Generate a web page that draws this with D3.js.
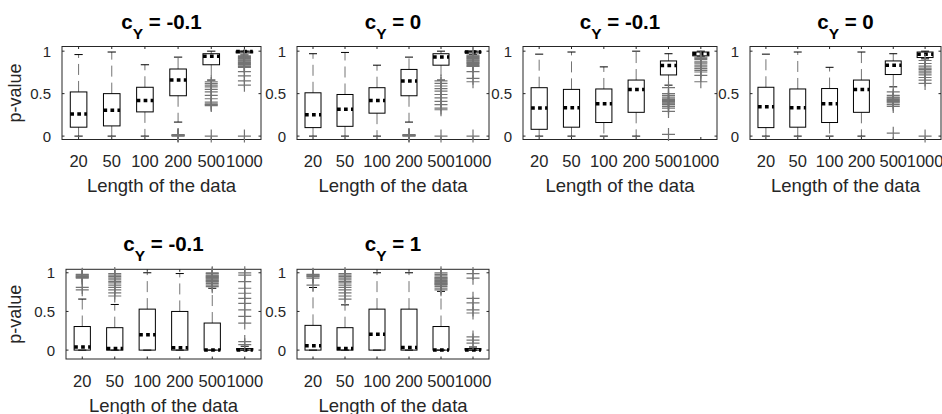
<!DOCTYPE html>
<html>
<head>
<meta charset="utf-8">
<script src="https://cdn.jsdelivr.net/npm/d3@7"></script>
<style>
  body { margin: 0; background: #fff; }
  svg { display: block; font-family: "Liberation Sans", Arial, sans-serif; }
</style>
</head>
<body>
<script>
// data length categories and the c_Y value of each panel
const lengths = ["20", "50", "100", "200", "500", "1000"]
const cY = ["-0.1", "0", "-0.1", "0", "-0.1", "1"]
const yTicks = [0, 0.5, 1]

// boxes per panel: [lower whisker, q1, median, q3, upper whisker]
const box1 = [[0, 0.105, 0.26, 0.52, 0.96], [0, 0.12, 0.305, 0.50, 0.99], [0, 0.285, 0.42, 0.575, 0.84],
              [0.165, 0.475, 0.66, 0.79, 0.93], [0.66, 0.84, 0.94, 0.97, 1.0], [0.955, 0.98, 0.995, 1.0, 1.0]]
const box2 = [[0, 0.10, 0.25, 0.51, 0.97], [0, 0.115, 0.315, 0.49, 0.985], [0, 0.27, 0.42, 0.57, 0.835],
              [0.165, 0.475, 0.65, 0.785, 0.93], [0.66, 0.835, 0.93, 0.97, 1.0], [0.96, 0.98, 0.99, 1.0, 1.0]]
const box3 = [[0, 0.08, 0.33, 0.57, 0.965], [0, 0.105, 0.335, 0.55, 0.99], [0, 0.16, 0.38, 0.555, 0.815],
              [0, 0.28, 0.55, 0.66, 1.0], [0.60, 0.72, 0.83, 0.885, 0.97], [0.935, 0.945, 0.97, 0.99, 1.0]]
const box4 = [[0, 0.10, 0.345, 0.575, 0.965], [0, 0.105, 0.335, 0.555, 0.99], [0, 0.16, 0.38, 0.56, 0.81],
              [0, 0.28, 0.55, 0.66, 0.99], [0.58, 0.725, 0.835, 0.885, 0.97], [0.91, 0.925, 0.965, 0.99, 1.0]]
const box5 = [[0, 0, 0.04, 0.305, 0.66], [0, 0, 0.02, 0.29, 0.59], [0, 0, 0.20, 0.53, 1.0],
              [0, 0, 0.03, 0.50, 0.99], [0, 0, 0, 0.35, 0.80], [0, 0, 0, 0.02, 0.05]]
const box6 = [[0, 0, 0.055, 0.32, 0.81], [0, 0, 0.02, 0.29, 0.585], [0, 0, 0.205, 0.53, 1.0],
              [0, 0, 0.035, 0.53, 1.0], [0, 0, 0, 0.305, 0.76], [0, 0, 0, 0.02, 0.04]]

// outliers per panel, one list per length
const out1 = [[], [], [], [0, 0.004, 0.008, 0.013, 0.018],
  [0.64, 0.62, 0.60, 0.58, 0.55, 0.52, 0.48, 0.44, 0.40, 0.38, 0.37, 0.36, 0],
  [0.945, 0.935, 0.925, 0.915, 0.905, 0.895, 0.885, 0.875, 0.865, 0.855, 0.845, 0.835, 0.82, 0.81, 0.76, 0.71, 0.65, 0.60, 0]]
const out2 = [[], [], [], [0, 0.004, 0.008, 0.013, 0.018],
  [0.65, 0.62, 0.59, 0.56, 0.53, 0.49, 0.45, 0.41, 0.37, 0.33, 0.31, 0],
  [0.955, 0.945, 0.935, 0.925, 0.915, 0.905, 0.895, 0.885, 0.875, 0.865, 0.855, 0.845, 0.83, 0.82, 0.76, 0.68, 0.64, 0]]
const out3 = [[], [], [], [],
  [0.57, 0.50, 0.48, 0.46, 0.44, 0.43, 0.42, 0.41, 0.40, 0.39, 0.38, 0.37, 0.35, 0.33, 0.29, 0.02],
  [0.93, 0.915, 0.90, 0.875, 0.86, 0.835, 0.815, 0.795, 0.775, 0.755, 0.715, 0.64]]
const out4 = [[], [], [], [],
  [0.52, 0.48, 0.46, 0.45, 0.44, 0.43, 0.42, 0.41, 0.40, 0.39, 0.37, 0.35, 0.035],
  [0.89, 0.855, 0.825, 0.80, 0.785, 0.765, 0.745, 0.72, 0.69, 0.66, 0.62, 0]]
const out5 = [[0.78, 0.81, 0.93, 0.94, 0.95, 0.96, 0.97, 0.98],
  [0.70, 0.74, 0.78, 0.81, 0.84, 0.87, 0.89, 0.91, 0.93, 0.95, 0.97, 0.99], [], [],
  [0.82, 0.84, 0.86, 0.88, 0.89, 0.90, 0.91, 0.92, 0.93, 0.94, 0.95, 0.96, 0.97, 0.99, 1.0],
  [0.07, 0.11, 0.35, 0.435, 0.52, 0.605, 0.67, 0.735, 0.80, 0.885, 0.97, 1.0]]
const out6 = [[0.84, 0.93, 0.95, 0.96, 0.97, 0.98],
  [0.66, 0.70, 0.74, 0.78, 0.81, 0.84, 0.87, 0.89, 0.91, 0.93, 0.95, 0.97, 0.99], [], [],
  [0.78, 0.80, 0.82, 0.84, 0.85, 0.86, 0.87, 0.88, 0.89, 0.90, 0.91, 0.92, 0.93, 0.94, 0.96, 0.98, 1.0],
  [0.09, 0.13, 0.17, 0.48, 0.52, 0.61, 0.67, 0.93, 0.99]]

const width = 942
const height = 414

const rows = [
  { top: 46.5, bottom: 139.5, domain: [-0.04, 1.055] },
  { top: 269.3, bottom: 359, domain: [-0.115, 1.045] }
]

const panels = [
  { box: box1, out: out1, left: 62, right: 261, row: 0, ylab: true },
  { box: box2, out: out2, left: 297, right: 489, row: 0 },
  { box: box3, out: out3, left: 523, right: 717, row: 0 },
  { box: box4, out: out4, left: 750, right: 941, row: 0 },
  { box: box5, out: out5, left: 66, right: 261, row: 1, ylab: true },
  { box: box6, out: out6, left: 297, right: 489, row: 1 }
]

const svg = d3.select('body').append('svg')
    .attr('width', width)
    .attr('height', height)

const axisColor = '#262626'
const grey = '#747474'

panels.forEach((p, pi) => {
    const r = rows[p.row]
    const x = d3.scaleLinear().domain([0.5, lengths.length + 0.5]).range([p.left, p.right])
    const y = d3.scaleLinear().domain(r.domain).range([r.bottom, r.top])
    const g = svg.append('g')
    const cx = (p.left + p.right) / 2

    // frame and inward ticks
    g.append('rect')
        .attr('x', p.left).attr('y', r.top)
        .attr('width', p.right - p.left).attr('height', r.bottom - r.top)
        .attr('fill', 'none').attr('stroke', axisColor).attr('stroke-width', 1)
    lengths.forEach((l, i) => {
        const xi = x(i + 1)
        g.append('line').attr('x1', xi).attr('x2', xi).attr('y1', r.bottom).attr('y2', r.bottom - 2.5)
            .attr('stroke', axisColor)
        g.append('line').attr('x1', xi).attr('x2', xi).attr('y1', r.top).attr('y2', r.top + 2.5)
            .attr('stroke', axisColor)
        g.append('text')
            .attr('x', xi).attr('y', r.bottom + 27.5)
            .attr('text-anchor', 'middle')
            .attr('font-size', 16.5).attr('fill', axisColor)
            .text(l)
    })
    yTicks.forEach(t => {
        const yt = y(t)
        g.append('line').attr('x1', p.left).attr('x2', p.left + 2.5).attr('y1', yt).attr('y2', yt)
            .attr('stroke', axisColor)
        g.append('line').attr('x1', p.right).attr('x2', p.right - 2.5).attr('y1', yt).attr('y2', yt)
            .attr('stroke', axisColor)
        g.append('text')
            .attr('x', p.left - 11).attr('y', yt + 5.5)
            .attr('text-anchor', 'end')
            .attr('font-size', 15).attr('fill', axisColor)
            .text(t)
    })

    // boxes
    p.box.forEach((b, i) => {
        const [lo, q1, med, q3, hi] = b
        const xc = x(i + 1)
        const hw = x(1.25) - x(1)
        const cw = x(1.125) - x(1)
        const whisk = [[q3, hi], [q1, lo]]
        whisk.forEach(([from, to]) => {
            if (from !== to) {
                g.append('line')
                    .attr('x1', xc).attr('x2', xc).attr('y1', y(from)).attr('y2', y(to))
                    .attr('stroke', grey).attr('stroke-width', 1)
                    .attr('stroke-dasharray', '11,6')
            }
            g.append('line')
                .attr('x1', xc - cw).attr('x2', xc + cw).attr('y1', y(to)).attr('y2', y(to))
                .attr('stroke', '#000').attr('stroke-width', 1)
        })
        g.append('rect')
            .attr('x', xc - hw).attr('width', 2 * hw)
            .attr('y', y(q3)).attr('height', Math.max(0, y(q1) - y(q3)))
            .attr('fill', 'none').attr('stroke', '#000').attr('stroke-width', 1)
        g.append('line')
            .attr('x1', xc - hw).attr('x2', xc + hw).attr('y1', y(med)).attr('y2', y(med))
            .attr('stroke', '#000').attr('stroke-width', 3.5)
            .attr('stroke-dasharray', '3.7,3.3')

        // outliers as +
        p.out[i].forEach(v => {
            const yv = y(v)
            g.append('path')
                .attr('d', `M${xc - 6.5},${yv}H${xc + 6.5}M${xc},${yv - 6.5}V${yv + 6.5}`)
                .attr('stroke', grey).attr('stroke-width', 1.2).attr('fill', 'none')
        })
    })

    // title with subscript
    const title = g.append('text')
        .attr('x', cx).attr('y', r.top - 18)
        .attr('text-anchor', 'middle')
        .attr('font-size', 20.5).attr('font-weight', 'bold').attr('fill', '#000')
    title.append('tspan').text('c')
    title.append('tspan').attr('dy', 10).attr('font-size', 15.5).text('Y')
    title.append('tspan').attr('dy', -10).text(' = ' + cY[pi])

    g.append('text')
        .attr('x', cx).attr('y', r.bottom + 52.5)
        .attr('text-anchor', 'middle')
        .attr('font-size', 18.5).attr('fill', axisColor)
        .text('Length of the data')

    if (p.ylab) {
        g.append('text')
            .attr('transform', `translate(21,${(r.top + r.bottom) / 2}) rotate(-90)`)
            .attr('text-anchor', 'middle')
            .attr('font-size', 18).attr('fill', axisColor)
            .text('p-value')
    }
})
</script>
</body>
</html>
